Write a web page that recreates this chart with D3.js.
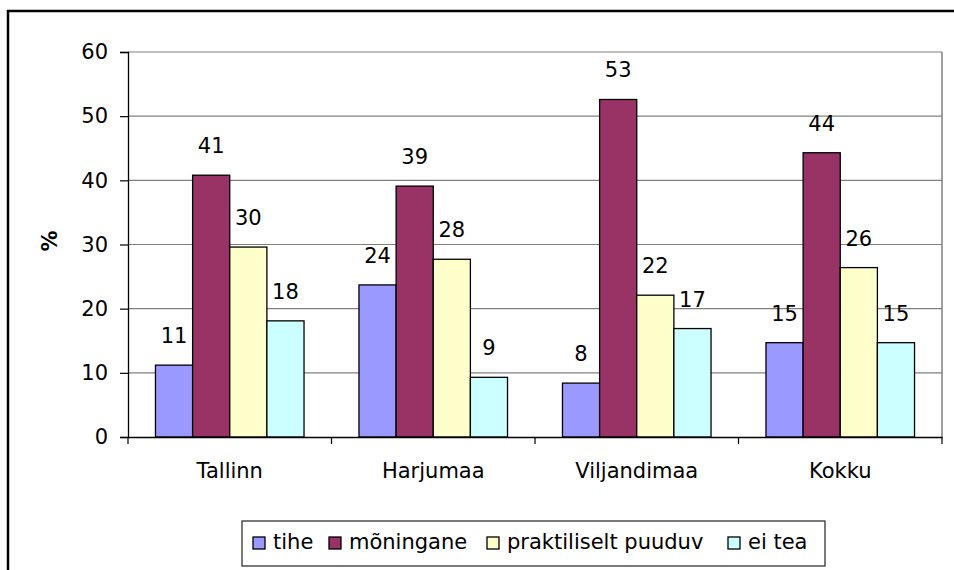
<!DOCTYPE html>
<html><head><meta charset="utf-8">
<script src="https://cdn.jsdelivr.net/npm/d3@7"></script>
<style>body{margin:0;background:#fff;} svg{display:block;font-family:"DejaVu Sans",Arial,sans-serif;}</style>
</head><body>
<script>
const categories = ["Tallinn", "Harjumaa", "Viljandimaa", "Kokku"];
const seriesNames = ["tihe", "mõningane", "praktiliselt puuduv", "ei tea"];
const seriesColors = ["#9999ff", "#993366", "#ffffcc", "#ccffff"];
const tihe = [11.2, 23.7, 8.4, 14.7];
const moningane = [40.8, 39.1, 52.6, 44.3];
const praktiliselt = [29.6, 27.7, 22.1, 26.4];
const eiTea = [18.1, 9.3, 16.9, 14.7];
const yTicks = [0, 10, 20, 30, 40, 50, 60];
const seriesValues = [tihe, moningane, praktiliselt, eiTea];

const FONT = "'DejaVu Sans',Arial,sans-serif";
const FS = 21;
const W = 954, H = 570;
const svg = d3.select("body").append("svg").attr("width", W).attr("height", H);
svg.append("rect").attr("x", 0).attr("y", 0).attr("width", W).attr("height", H).attr("fill", "#fff");
// outer frame
svg.append("rect").attr("x", 8).attr("y", 11).attr("width", 960).attr("height", 580)
  .attr("fill", "none").attr("stroke", "#000").attr("stroke-width", 2.5);

const L = 128, R = 942, T = 52, B = 437;
const x0 = d3.scaleBand().domain(categories).range([L, R]).paddingInner(0.27).paddingOuter(0.135);
const x1 = d3.scaleBand().domain(d3.range(4)).range([0, x0.bandwidth()]);
const y = d3.scaleLinear().domain([0, 60]).range([B, T]);

// gridlines
svg.append("g").selectAll("line").data(yTicks.filter(d => d > 0)).join("line")
  .attr("x1", L).attr("x2", R).attr("y1", d => y(d)).attr("y2", d => y(d))
  .attr("stroke", "#808080").attr("stroke-width", 1.2);
// plot frame right
svg.append("line").attr("x1", R).attr("x2", R).attr("y1", T).attr("y2", B).attr("stroke", "#808080").attr("stroke-width", 1.5);

// bars
const groups = svg.append("g").selectAll("g").data(categories).join("g")
  .attr("transform", d => `translate(${x0(d)},0)`);
groups.selectAll("rect").data((c, ci) => seriesValues.map((s, si) => ({si, v: s[ci]}))).join("rect")
  .attr("x", d => x1(d.si)).attr("width", x1.bandwidth())
  .attr("y", d => y(d.v)).attr("height", d => B - y(d.v))
  .attr("fill", d => seriesColors[d.si]).attr("stroke", "#000").attr("stroke-width", 1.3);
groups.selectAll("text").data((c, ci) => seriesValues.map((s, si) => ({si, v: s[ci]}))).join("text")
  .attr("x", d => x1(d.si) + x1.bandwidth() / 2).attr("y", d => y(d.v) - 22)
  .attr("text-anchor", "middle").attr("font-size", FS).attr("fill", "#000")
  .text(d => Math.round(d.v));

// y axis
const yAxis = d3.axisLeft(y).tickValues(yTicks).tickSize(8).tickPadding(12);
const gy = svg.append("g").attr("transform", `translate(${L},0)`).call(yAxis);
gy.attr("font-family", FONT).attr("font-size", FS);
gy.select(".domain").attr("stroke", "#000").attr("stroke-width", 1.3);
gy.selectAll(".tick line").attr("stroke", "#000").attr("stroke-width", 1.2);
gy.selectAll("text").attr("fill", "#000");

// x axis
const xAxis = d3.axisBottom(x0).tickSize(0).tickPadding(26);
const gx = svg.append("g").attr("transform", `translate(0,${B})`).call(xAxis);
gx.attr("font-family", FONT).attr("font-size", FS);
gx.select(".domain").attr("stroke", "#000").attr("stroke-width", 1.3);
gx.selectAll("text").attr("fill", "#000");
// category boundary ticks
const step = (R - L) / categories.length;
svg.append("g").selectAll("line").data(d3.range(categories.length + 1)).join("line")
  .attr("x1", i => L + i * step).attr("x2", i => L + i * step)
  .attr("y1", B).attr("y2", B + 7).attr("stroke", "#000").attr("stroke-width", 1.2);

// y title
svg.append("text").attr("transform", "translate(57,241) rotate(-90)")
  .attr("text-anchor", "middle").attr("font-size", FS).attr("font-weight", "bold").text("%");

// legend
const lg = svg.append("g");
lg.append("rect").attr("x", 242).attr("y", 521).attr("width", 583).attr("height", 45)
  .attr("fill", "#fff").attr("stroke", "#333").attr("stroke-width", 1.3);
const legX = [253, 329, 487, 728];
const items = lg.selectAll("g").data(seriesNames).join("g")
  .attr("transform", (d, i) => `translate(${legX[i]},537)`);
items.append("rect").attr("width", 12).attr("height", 12)
  .attr("fill", (d, i) => seriesColors[i]).attr("stroke", "#000").attr("stroke-width", 1.3);
items.append("text").attr("x", 20).attr("y", 12).attr("font-size", FS).text(d => d);
</script>
</body></html>
